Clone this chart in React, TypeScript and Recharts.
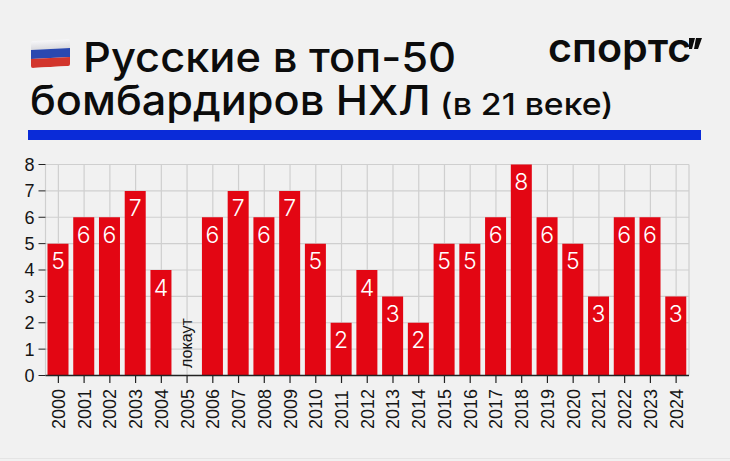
import React from "react";
import { BarChart, Bar, XAxis, YAxis, CartesianGrid, LabelList, ReferenceDot } from "recharts";

const years = ["2000","2001","2002","2003","2004","2005","2006","2007","2008","2009","2010","2011","2012","2013","2014","2015","2016","2017","2018","2019","2020","2021","2022","2023","2024"];
const counts = [5,6,6,7,4,0,6,7,6,7,5,2,4,3,2,5,5,6,8,6,5,3,6,6,3];
const yTicks = [0,1,2,3,4,5,6,7,8];
const lockoutYear = "2005";
const lockoutLabel = "локаут";
const data = years.map((year, i) => ({ year, count: counts[i] }));

const sans = "'Liberation Sans', Arial, sans-serif";
const display = "Inter, sans-serif";

const XTick = (props: any) => {
  const { x, payload } = props;
  return (
    <g>
      <line x1={x} x2={x} y1={375} y2={383} stroke="#222" strokeWidth={1.2} />
      <text transform={`translate(${x + 6.5},429) rotate(-90)`} fontFamily={sans} fontSize={18} fill="#151515" textAnchor="start">{payload.value}</text>
    </g>
  );
};

const BarLabel = (props: any) => {
  const { x, y, width, value } = props;
  const cx = x + width / 2;
  if (!value) return null;
  return (
    <text x={cx} y={y + 25.5} textAnchor="middle" fontFamily={display} fontSize={23} fontWeight={300} fill="#fff">{value}</text>
  );
};

const LockoutLabel = (props: any) => {
  const { viewBox } = props;
  const cx = viewBox.x + (viewBox.width || 0) / 2;
  return (
    <text transform={`translate(${cx + 5},368) rotate(-90)`} fontFamily={sans} fontSize={16} fill="#151515">{lockoutLabel}</text>
  );
};

const lineStyle: React.CSSProperties = { position: "absolute", fontFamily: display, fontWeight: 500, color: "#0c0c0c", whiteSpace: "nowrap", transformOrigin: "left center" };

export default function App() {
  return (
    <div style={{ position: "absolute", left: 0, top: 0, width: 730, height: 461, background: "#f1f1f1", overflow: "hidden" }}>
      <BarChart width={730} height={461} data={data} margin={{ top: 164.5, right: 0, bottom: 0, left: 0 }}>
        <CartesianGrid stroke="#cfcfcf" strokeWidth={1.2} yAxisId="left" />
        <XAxis dataKey="year" height={85.5} interval={0} tick={<XTick />} tickLine={false} axisLine={{ stroke: "#222", strokeWidth: 1.5 }} />
        <YAxis yAxisId="left" width={45.5} domain={[0, 8]} ticks={yTicks} interval={0} axisLine={false} tickSize={7} tickLine={{ stroke: "#222" }} tick={{ fontFamily: sans, fontSize: 18, fill: "#151515" }} tickMargin={4} />
        <YAxis yAxisId="right" orientation="right" width={41} domain={[0, 8]} ticks={yTicks} interval={0} axisLine={false} tickSize={6} tickLine={{ stroke: "#222" }} tick={{ fontFamily: sans, fontSize: 18, fill: "#151515" }} tickMargin={3} />
        <Bar yAxisId="left" dataKey="count" fill="#e30613" barSize={21} isAnimationActive={false}>
          <LabelList dataKey="count" content={<BarLabel />} />
        </Bar>
        <ReferenceDot yAxisId="left" x={lockoutYear} y={0} r={0} fill="none" stroke="none" label={<LockoutLabel />} />
      </BarChart>

      <div style={{ position: "absolute", left: 28, top: 130, width: 673, height: 10, background: "#0a2bd8" }} />
      <div style={{ position: "absolute", left: 31, top: 40, width: 39, height: 27, transform: "skewY(-3deg)", borderRadius: 2, overflow: "hidden" }}>
        <div style={{ height: 9, background: "linear-gradient(#f7f7f9,#d9d9de)" }} />
        <div style={{ height: 9, background: "#2a48b0" }} />
        <div style={{ height: 9, background: "#d2352c" }} />
      </div>
      <div style={{ ...lineStyle, left: 83, top: 37, fontSize: 41, lineHeight: "41px", transform: "scaleX(1.06)" }}>Русские в топ-50</div>
      <div style={{ ...lineStyle, left: 30, top: 80, fontSize: 41, lineHeight: "41px", transform: "scaleX(1.055)" }}>бомбардиров НХЛ</div>
      <div style={{ ...lineStyle, left: 440, top: 88, fontSize: 30, lineHeight: "32px", transform: "scaleX(1.125)" }}>(в 21 веке)</div>
      <div style={{ ...lineStyle, left: 548, top: 26, fontSize: 40, fontWeight: 600, lineHeight: "44px", transform: "scaleX(1.03)" }}>спортс</div>
      <svg style={{ position: "absolute", left: 686, top: 36 }} width={18} height={14}>
        <polygon points="3,2 9,2 6,13 3,13" fill="#0c0c0c" />
        <polygon points="10,2 16,2 12,13 8,13" fill="#0c0c0c" />
      </svg>
      <div style={{ position: "absolute", left: 0, top: 458, width: 730, height: 1, background: "#e4e4e4" }} />
    </div>
  );
}
